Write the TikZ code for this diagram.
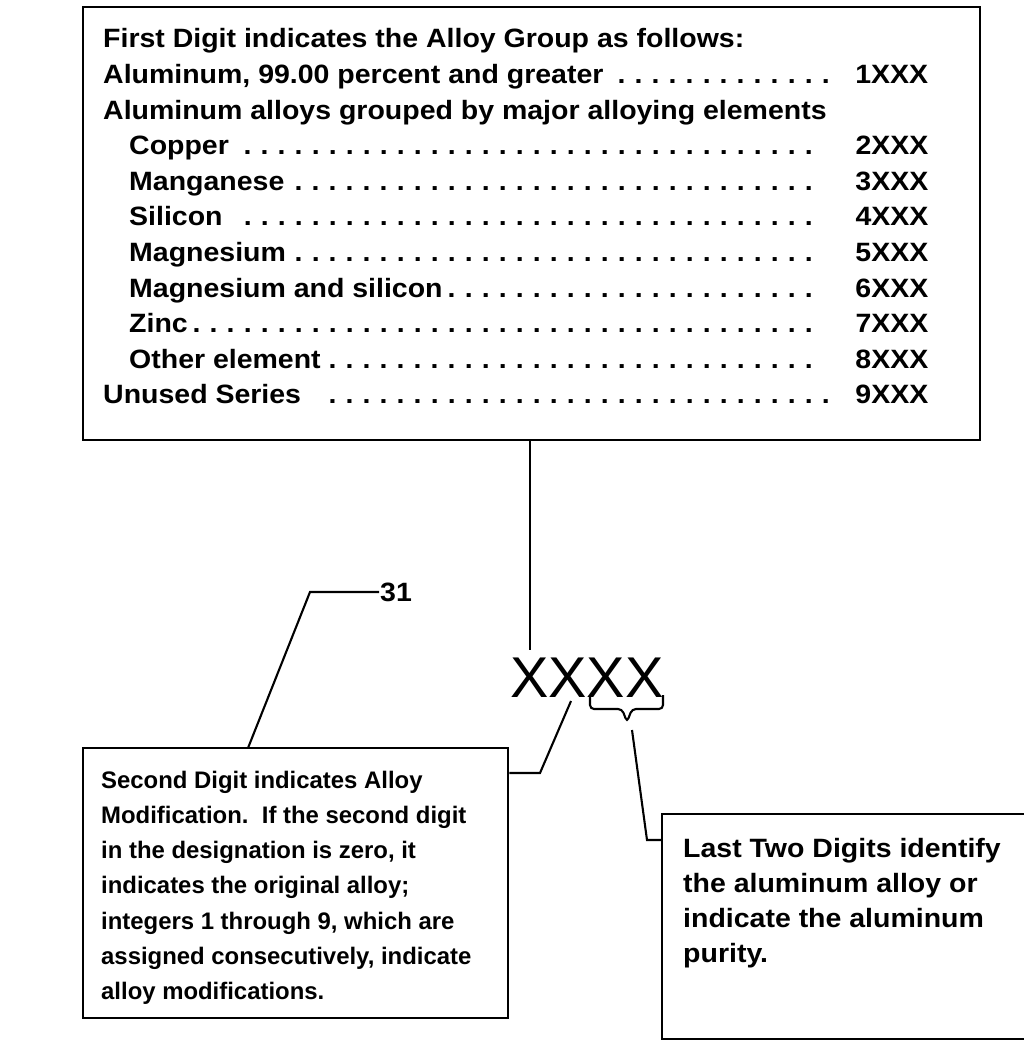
\documentclass[tikz,border=0pt]{standalone}
\usepackage{fontspec}
\setmainfont{Liberation Sans}[FakeStretch=1.075,BoldFont=Liberation Sans Bold,BoldFeatures={FakeStretch=1.075}]
\newfontfamily\bigfont{Liberation Sans}
\newfontfamily\leftfont{Liberation Sans Bold}
\usetikzlibrary{calc}
\tikzset{
  box/.style={draw, line width=2.6pt, inner sep=0pt},
  conn/.style={line width=2.1pt, line join=miter},
  txt/.style={inner sep=0pt, anchor=base west, align=left},
}
\newcommand{\dotlead}{\leaders\hbox to 17pt{\hss.\hss}\hfill}
\newcommand{\toprow}[1]{\hbox to \hsize{#1}}
\newcommand{\subrow}[2]{\hbox to \hsize{\hspace*{26pt}#1\dotlead\hbox to 100pt{\hss #2}}}
\begin{document}
\begin{tikzpicture}[x=1pt,y=-1pt]
\useasboundingbox (0,0) rectangle (1024,1041);
% boxes
\node[box, minimum width=897pt, minimum height=433pt] (topbox) at (531.5,223.5) {};
\node[box, minimum width=425pt, minimum height=270pt] (lbox) at (295.5,883) {};
\draw[box] (1030,814) -| (662,1039) -- (1030,1039);
\coordinate (rbox) at (662,840);
% top text
\node[txt] (toptext) at (103,48) {\vtop{\hsize=825pt\parindent=0pt\fontsize{26.5}{35.6}\selectfont\bfseries
\toprow{First Digit indicates the Alloy Group as follows:\hss}
\toprow{Aluminum, 99.00 percent and greater\dotlead\hbox to 86pt{\hss 1XXX}}
\toprow{Aluminum alloys grouped by major alloying elements\hss}
\subrow{Copper }{2XXX}
\subrow{Manganese}{3XXX}
\subrow{Silicon}{4XXX}
\subrow{Magnesium}{5XXX}
\subrow{Magnesium and silicon}{6XXX}
\subrow{Zinc}{7XXX}
\subrow{Other element}{8XXX}
\toprow{Unused Series \dotlead\hbox to 86pt{\hss 9XXX}}}};
% left text
\node[txt] (ltext) at (101,788) {\vtop{\hsize=400pt\parindent=0pt\leftfont\fontsize{23.9}{35.3}\selectfont
\hbox{Second Digit indicates Alloy}
\hbox{Modification.\ \ If the second digit}
\hbox{in the designation is zero, it}
\hbox{indicates the original alloy;}
\hbox{integers 1 through 9, which are}
\hbox{assigned consecutively, indicate}
\hbox{alloy modifications.}}};
% right text
\node[txt] (rtext) at (683,857) {\vtop{\hsize=340pt\parindent=0pt\fontsize{26.5}{35}\selectfont\bfseries
\hbox{Last Two Digits identify}
\hbox{the aluminum alloy or}
\hbox{indicate the aluminum}
\hbox{purity.}}};
% code
\node[inner sep=0pt, anchor=base west, font=\bigfont\fontsize{57.5}{57.5}\selectfont] (code) at (510,697) {XXXX};
\node[inner sep=1pt, anchor=west, font=\fontsize{26.5}{26.5}\selectfont\bfseries] (lbl31) at (379,592) {31};
% connectors
\coordinate (x1top) at (530,650);
\draw[conn] (topbox.south -| x1top) -- (x1top);
\coordinate (x2bot) at (571,701);
\draw[conn] (x2bot) -- (540,773) -- (540,773 -| lbox.east);
\coordinate (l31) at (248,748);
\draw[conn] (l31) -- (310,592) -- (lbl31.west);
\draw[conn, rounded corners=4pt] (590,695) |- (622,709) -- (627,722) -- (632,709) -| (663,695);
\coordinate (btip) at (632,730);
\draw[conn] (btip) -- (647,840) -- (rbox);
\end{tikzpicture}
\end{document}
